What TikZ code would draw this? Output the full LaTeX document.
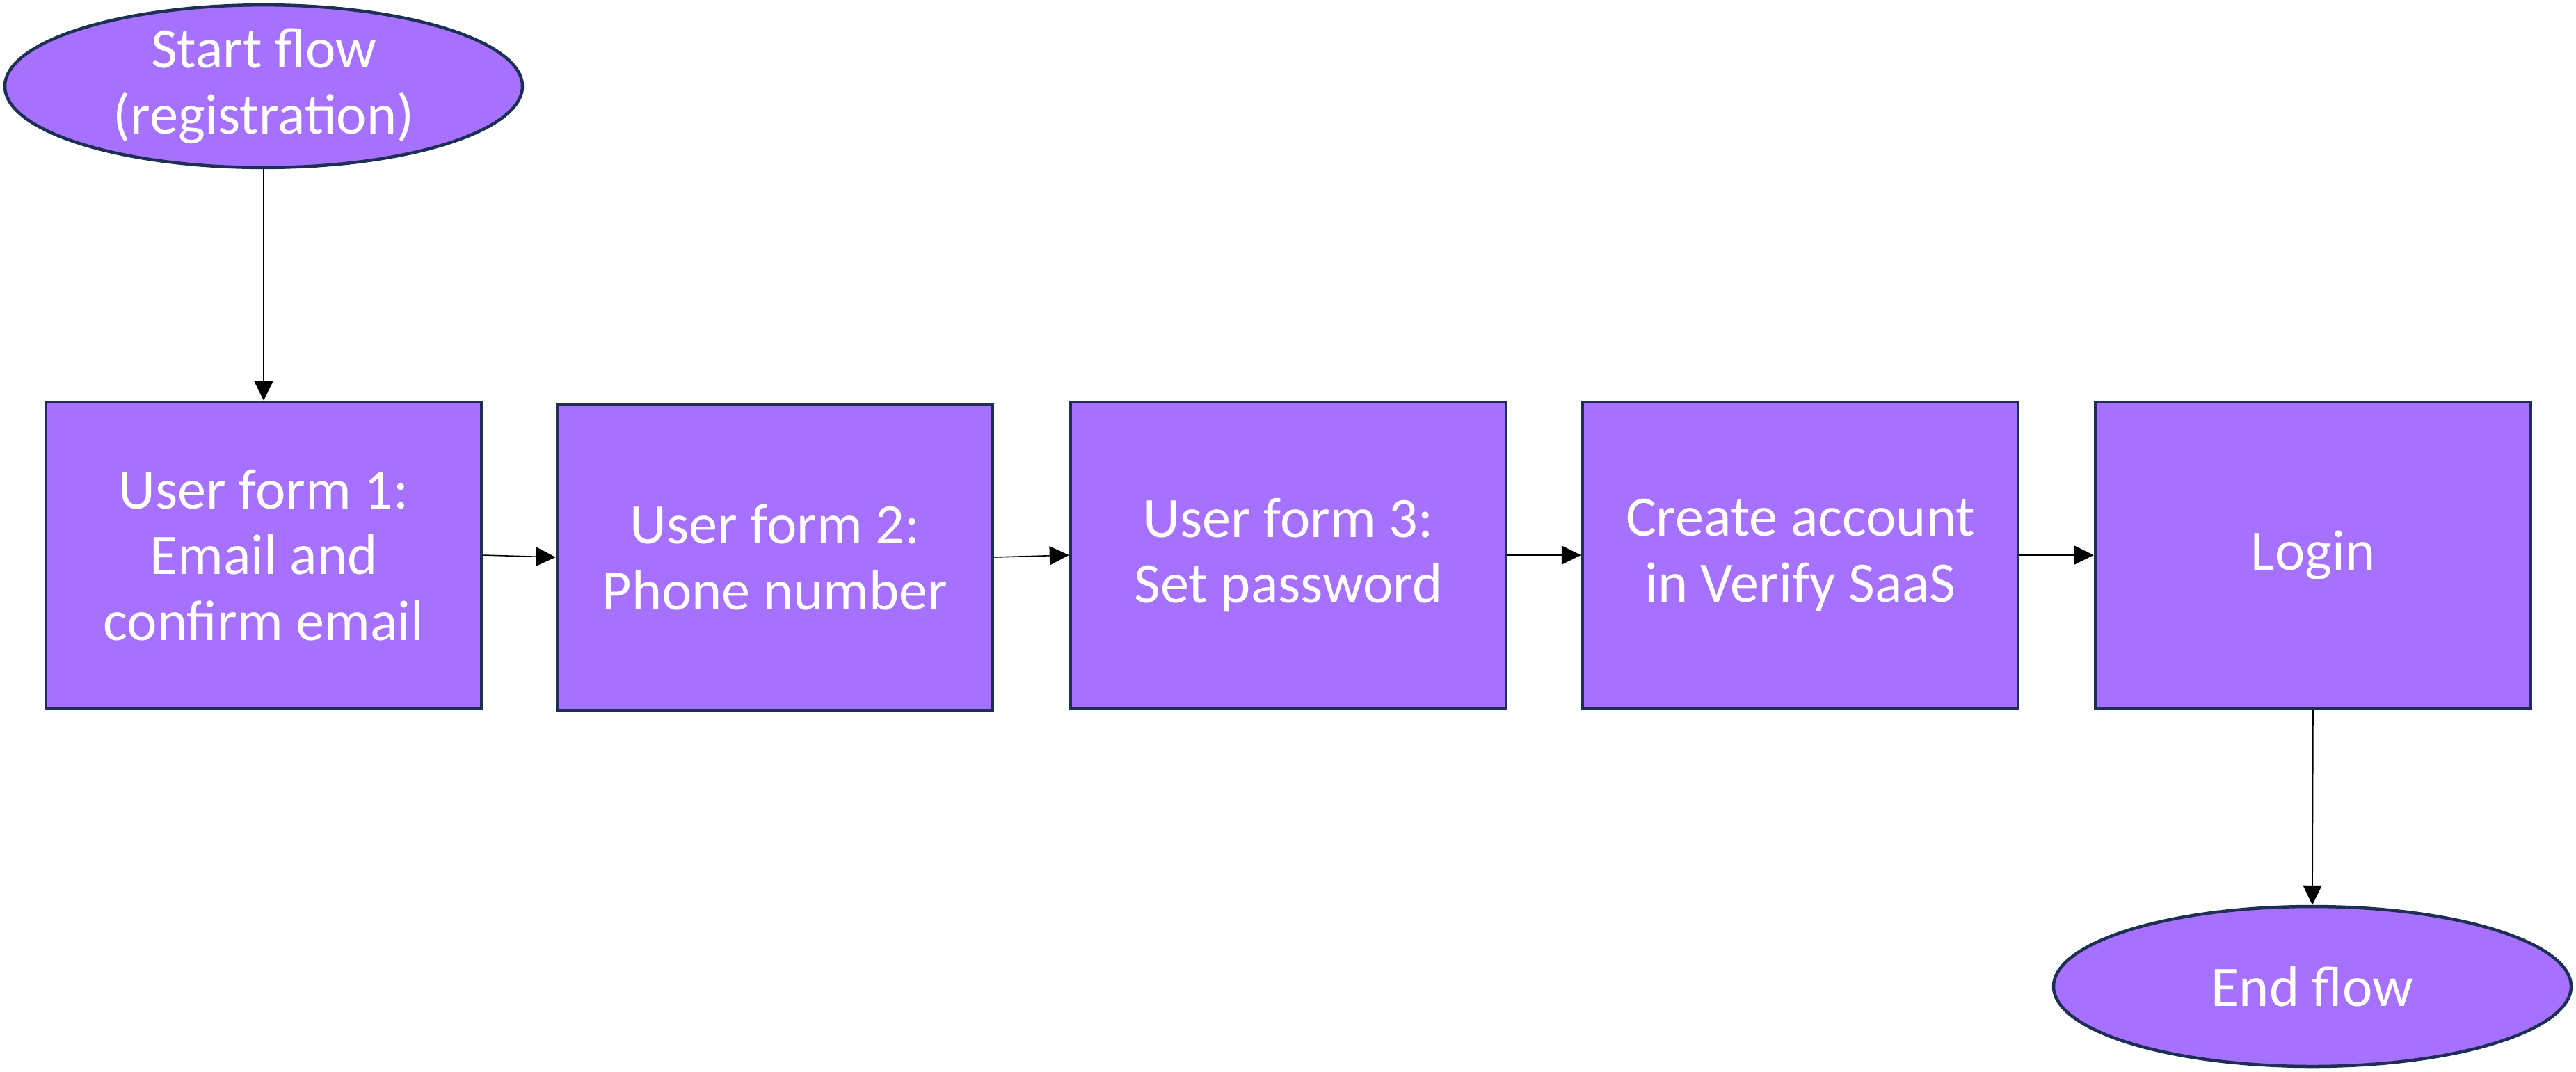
\documentclass[tikz,border=0pt]{standalone}
\usepackage{fontspec}
\setmainfont{Carlito}
\usepackage{tikz}
\usetikzlibrary{arrows.meta,positioning,shapes.geometric}
\definecolor{flowfill}{HTML}{A571FE}
\definecolor{flowedge}{HTML}{1D2F55}
\tikzset{
  flowbox/.style={draw=flowedge, fill=flowfill, line width=0.045cm, inner sep=2pt,
                  minimum width=6.26cm, minimum height=4.40cm, align=center,
                  text=white, font=\fontsize{23.4}{26.9}\selectfont},
  flowoval/.style={ellipse, draw=flowedge, fill=flowfill, line width=0.045cm, inner sep=0pt,
                   minimum width=7.44cm, minimum height=2.30cm, align=center,
                   text=white, font=\fontsize{23.4}{26.9}\selectfont},
  flowarr/.style={-{Triangle[length=0.28cm,width=0.27cm]}, draw=black, line width=0.45pt},
}
\begin{document}
\begin{tikzpicture}[x=1cm,y=1cm]
\useasboundingbox (0,0) rectangle (37.03,-15.40);
\node[flowoval] (start) at (3.79,-1.24) {Start flow\\(registration)};
\node[flowbox] (form1) at (3.79,-7.98) {User form 1:\\Email and\\confirm email};
\node[flowbox] (form2) at (11.14,-8.01) {User form 2:\\Phone number};
\node[flowbox] (form3) at (18.52,-7.98) {User form 3:\\Set password};
\node[flowbox] (account) at (25.88,-7.98) {Create account\\in Verify SaaS};
\node[flowbox] (login) at (33.25,-7.98) {Login};
\node[flowoval] (finish) at (33.24,-14.18) {End flow};
\draw[flowarr] (start.south) -- (form1.north);
\draw[flowarr] (form1.east) -- (form2.west);
\draw[flowarr] (form2.east) -- (form3.west);
\draw[flowarr] (form3.east) -- (account.west);
\draw[flowarr] (account.east) -- (login.west);
\draw[flowarr] (login.south) -- (finish.north);
\end{tikzpicture}
\end{document}
